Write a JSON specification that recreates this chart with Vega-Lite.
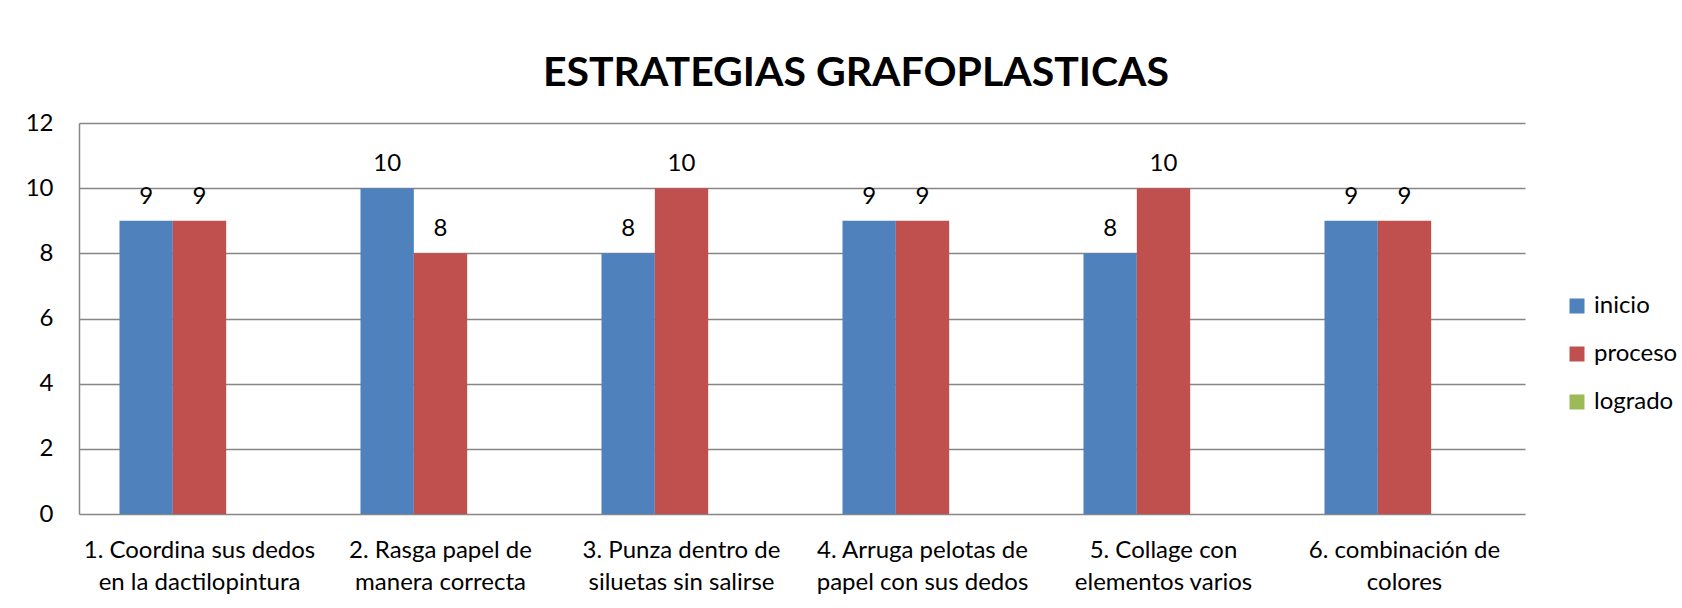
{
  "$schema": "https://vega.github.io/schema/vega-lite/v6.json",
  "width": 1446,
  "height": 391,
  "autosize": {"type": "none"},
  "padding": {"left": 79, "top": 123, "right": 157, "bottom": 94},
  "background": "white",
  "title": {
    "text": "ESTRATEGIAS GRAFOPLASTICAS",
    "font": "Lato",
    "fontSize": 41,
    "fontWeight": "bold",
    "color": "black",
    "anchor": "middle",
    "baseline": "alphabetic",
    "dx": 54,
    "dy": 59,
    "offset": 43
  },
  "data": {
    "values": [
      {"estrategia": "1. Coordina sus dedos\nen la dactilopintura", "serie": "inicio", "valor": 9},
      {"estrategia": "1. Coordina sus dedos\nen la dactilopintura", "serie": "proceso", "valor": 9},
      {"estrategia": "2. Rasga papel de\nmanera correcta", "serie": "inicio", "valor": 10},
      {"estrategia": "2. Rasga papel de\nmanera correcta", "serie": "proceso", "valor": 8},
      {"estrategia": "3. Punza dentro de\nsiluetas sin salirse", "serie": "inicio", "valor": 8},
      {"estrategia": "3. Punza dentro de\nsiluetas sin salirse", "serie": "proceso", "valor": 10},
      {"estrategia": "4. Arruga pelotas de\npapel con  sus dedos", "serie": "inicio", "valor": 9},
      {"estrategia": "4. Arruga pelotas de\npapel con  sus dedos", "serie": "proceso", "valor": 9},
      {"estrategia": "5. Collage con\nelementos varios", "serie": "inicio", "valor": 8},
      {"estrategia": "5. Collage con\nelementos varios", "serie": "proceso", "valor": 10},
      {"estrategia": "6. combinación de\ncolores", "serie": "inicio", "valor": 9},
      {"estrategia": "6. combinación de\ncolores", "serie": "proceso", "valor": 9}
    ]
  },
  "encoding": {
    "x": {
      "field": "estrategia",
      "type": "nominal",
      "sort": null,
      "title": null,
      "scale": {"paddingInner": 0.336, "paddingOuter": 0.168},
      "axis": {
        "labelAngle": 0,
        "labelExpr": "split(datum.label, '\\n')",
        "labelFont": "Lato",
        "labelFontSize": 24,
        "labelLineHeight": 32,
        "labelColor": "black",
        "labelPadding": 24,
        "labelBaseline": "top",
        "labelLimit": 400,
        "ticks": false,
        "tickSize": 0,
        "domain": false,
        "grid": false
      }
    },
    "xOffset": {
      "field": "serie",
      "type": "nominal",
      "scale": {"domain": ["inicio", "proceso", "logrado"], "paddingInner": 0, "paddingOuter": 0}
    },
    "y": {
      "field": "valor",
      "type": "quantitative",
      "title": null,
      "scale": {"domain": [0, 12], "nice": false},
      "axis": {
        "values": [0, 2, 4, 6, 8, 10, 12],
        "labelFont": "Lato",
        "labelFontSize": 24,
        "labelColor": "black",
        "labelPadding": 26,
        "ticks": false,
        "tickSize": 0,
        "domain": true,
        "domainColor": "#868686",
        "domainWidth": 1.5,
        "grid": true,
        "gridColor": "#868686",
        "gridWidth": 1.5
      }
    }
  },
  "layer": [
    {
      "mark": {"type": "bar", "strokeWidth": 0},
      "encoding": {
        "color": {
          "field": "serie",
          "type": "nominal",
          "scale": {"domain": ["inicio", "proceso", "logrado"], "range": ["#4F81BD", "#C0504D", "#9BBB59"]},
          "legend": {
            "title": null,
            "orient": "none",
            "legendX": 1486,
            "legendY": 171,
            "symbolType": "square",
            "symbolSize": 225,
            "symbolStrokeWidth": 0,
            "labelFont": "Lato",
            "labelFontSize": 24,
            "labelColor": "black",
            "labelOffset": 5,
            "rowPadding": 24
          }
        }
      }
    },
    {
      "mark": {"type": "text", "font": "Lato", "fontSize": 24, "color": "black", "baseline": "alphabetic", "dy": -17},
      "encoding": {
        "text": {"field": "valor", "type": "quantitative"}
      }
    }
  ],
  "config": {
    "view": {"stroke": null}
  }
}
